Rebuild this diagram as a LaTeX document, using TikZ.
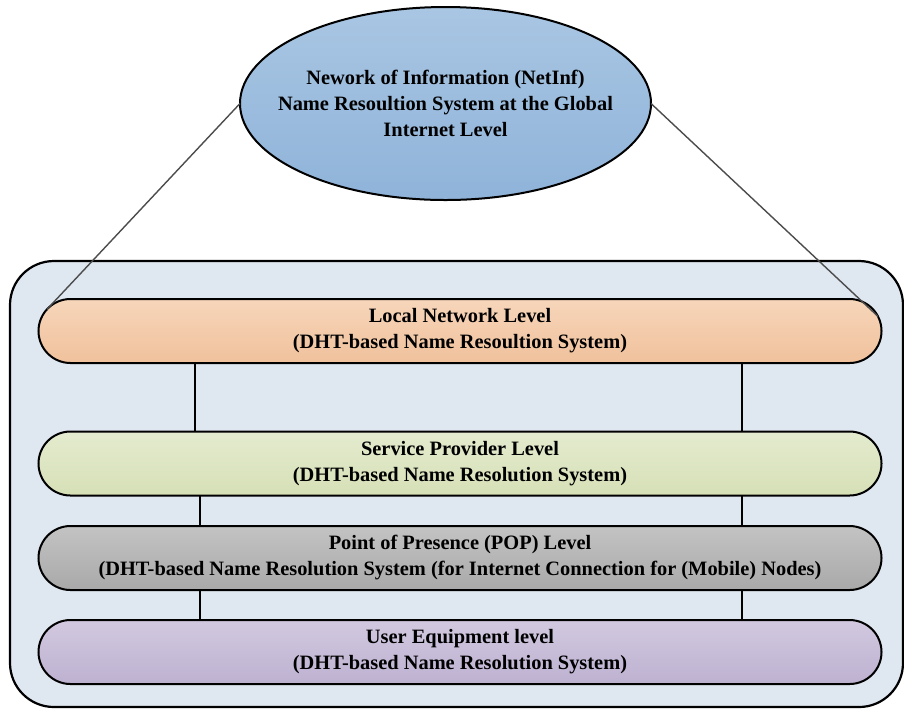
\documentclass[tikz,border=0pt]{standalone}
\usepackage{fontspec}
\setmainfont{Liberation Serif}
\usetikzlibrary{shapes,positioning,calc}

\definecolor{framebg}{HTML}{DFE7F1}
\definecolor{blueTop}{HTML}{A9C6E3}
\definecolor{blueBot}{HTML}{8FB3D9}
\definecolor{orangeTop}{HTML}{F7D6BA}
\definecolor{orangeBot}{HTML}{F0C19C}
\definecolor{greenTop}{HTML}{E4EBCF}
\definecolor{greenBot}{HTML}{D6E0B6}
\definecolor{grayTop}{HTML}{C3C3C3}
\definecolor{grayBot}{HTML}{A9A9A9}
\definecolor{purpleTop}{HTML}{D2C9E0}
\definecolor{purpleBot}{HTML}{BDB1D0}

\begin{document}
\begin{tikzpicture}[x=0.5pt,y=-0.5pt,node distance=15pt,
  level/.style={rounded rectangle,draw,line width=1pt,outer sep=0pt,minimum width=421.5pt,minimum height=32pt,inner sep=0pt,align=center,font=\bfseries\fontsize{10.2}{13}\selectfont},
  link/.style={draw,line width=0.8pt},
  slant/.style={draw=black!70,line width=0.7pt}]

\useasboundingbox (0,0) rectangle (904,709);

% outer frame
\node[draw,line width=1.1pt,rounded corners=22pt,fill=framebg,minimum width=446.5pt,minimum height=223pt] (frame) at (456.5,484) {};

% global level
\node[ellipse,draw,line width=1pt,outer sep=0pt,top color=blueTop,bottom color=blueBot,minimum width=205.5pt,minimum height=96.5pt,inner xsep=-14pt,inner ysep=0pt,align=center,font=\bfseries\fontsize{10.2}{13}\selectfont] (netinf) at (445.5,103.5)
  {Nework of Information (NetInf)\\Name Resoultion System at the Global\\Internet Level};

% DHT levels
\node[level,top color=orangeTop,bottom color=orangeBot] (local) at (460,331)
  {Local Network Level\\(DHT-based Name Resoultion System)};
\node[level,top color=greenTop,bottom color=greenBot,below=34.25pt of local] (service)
  {Service Provider Level\\(DHT-based Name Resolution System)};
\node[level,top color=grayTop,bottom color=grayBot,below=15.25pt of service] (pop)
  {Point of Presence (POP) Level\\(DHT-based Name Resolution System (for Internet Connection for (Mobile) Nodes)};
\node[level,top color=purpleTop,bottom color=purpleBot,below=15pt of pop] (user)
  {User Equipment level\\(DHT-based Name Resolution System)};

% links
\coordinate (l1) at (195,0);
\coordinate (l2) at (200,0);
\coordinate (r1) at (742,0);

\path[link] (local.south -| l1) -- (service.north -| l1)
            (local.south -| r1) -- (service.north -| r1)
            (service.south -| l2) -- (pop.north -| l2)
            (service.south -| r1) -- (pop.north -| r1)
            (pop.south -| l2) -- (user.north -| l2)
            (pop.south -| r1) -- (user.north -| r1);

\path[slant] (netinf.west) -- (local.177.5)
             (netinf.east) -- (local.2.5);
\end{tikzpicture}
\end{document}
